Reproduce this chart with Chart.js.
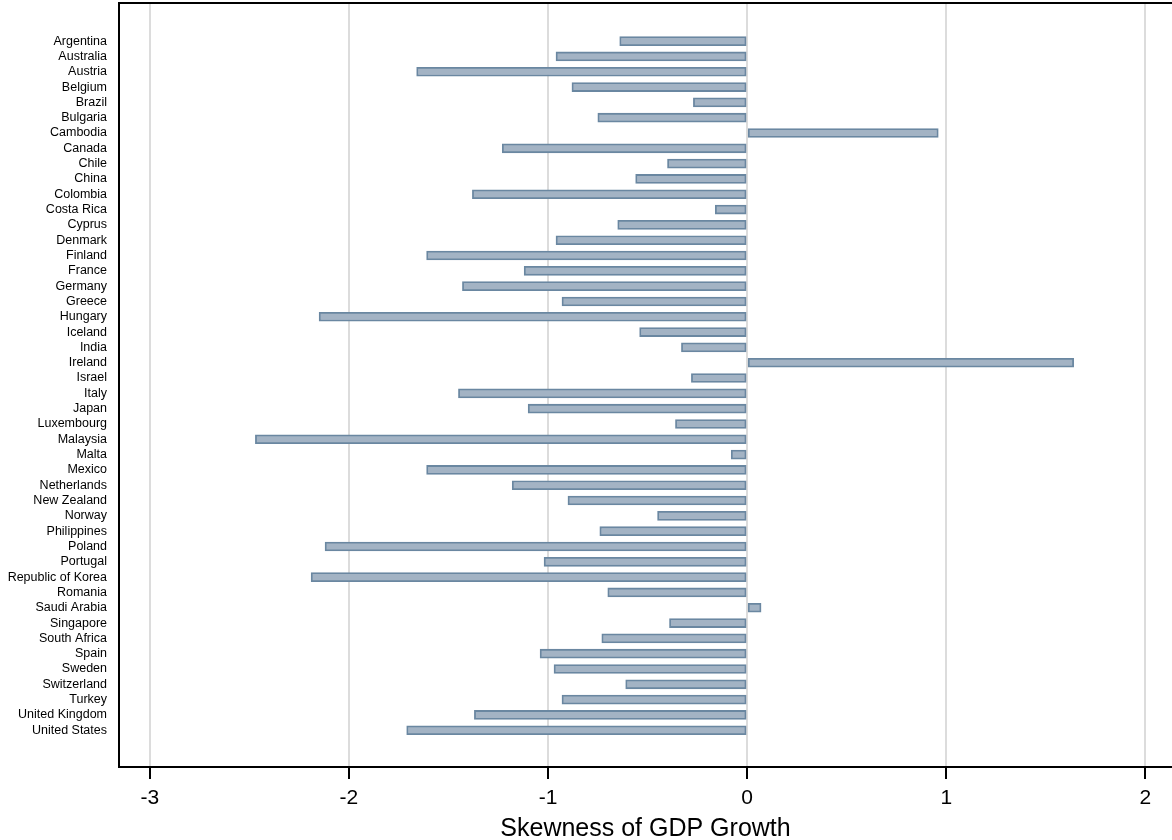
<!DOCTYPE html>
<html>
<head>
<meta charset="utf-8">
<script src="https://cdn.jsdelivr.net/npm/chart.js@4/dist/chart.umd.min.js"></script>
<style>
  html, body { margin: 0; padding: 0; background: #fff; }
  #wrap { width: 1172px; height: 840px; position: relative; }
</style>
</head>
<body>
<div id="wrap"><canvas id="c"></canvas></div>
<script>
// Countries, top to bottom
const countries = [
  "Argentina", "Australia", "Austria", "Belgium", "Brazil", "Bulgaria",
  "Cambodia", "Canada", "Chile", "China", "Colombia", "Costa Rica",
  "Cyprus", "Denmark", "Finland", "France", "Germany", "Greece",
  "Hungary", "Iceland", "India", "Ireland", "Israel", "Italy",
  "Japan", "Luxembourg", "Malaysia", "Malta", "Mexico", "Netherlands",
  "New Zealand", "Norway", "Philippines", "Poland", "Portugal",
  "Republic of Korea", "Romania", "Saudi Arabia", "Singapore",
  "South Africa", "Spain", "Sweden", "Switzerland", "Turkey",
  "United Kingdom", "United States"
];

// Skewness of GDP growth per country
const skewness = [
  -0.64, -0.96, -1.66, -0.88, -0.27, -0.75,
   0.96, -1.23, -0.40, -0.56, -1.38, -0.16,
  -0.65, -0.96, -1.61, -1.12, -1.43, -0.93,
  -2.15, -0.54, -0.33,  1.64, -0.28, -1.45,
  -1.10, -0.36, -2.47, -0.08, -1.61, -1.18,
  -0.90, -0.45, -0.74, -2.12, -1.02,
  -2.19, -0.70,  0.07, -0.39,
  -0.73, -1.04, -0.97, -0.61, -0.93,
  -1.37, -1.71
];

// Horizontal axis ticks
const xTicks = [-3, -2, -1, 0, 1, 2];
const xTitle = "Skewness of GDP Growth";

const FONT = "'Liberation Sans', Arial, Helvetica, sans-serif";

// Black frame line along the top of the plot area
const topFrame = {
  id: 'topFrame',
  afterDraw(chart) {
    const { ctx, chartArea } = chart;
    ctx.save();
    ctx.strokeStyle = '#000';
    ctx.lineWidth = 2;
    ctx.beginPath();
    ctx.moveTo(chartArea.left - 1, chartArea.top);
    ctx.lineTo(chartArea.right, chartArea.top);
    ctx.stroke();
    ctx.restore();
  }
};

new Chart(document.getElementById('c'), {
  type: 'bar',
  data: {
    datasets: [{
      data: skewness.map((v, i) => ({ x: v, y: i })),
      backgroundColor: '#a3b3c4',
      borderColor: '#6a87a1',
      borderWidth: 1.8,
      borderSkipped: false,
      barThickness: 9
    }]
  },
  options: {
    indexAxis: 'y',
    responsive: true,
    maintainAspectRatio: false,
    animation: false,
    layout: { padding: { top: 3, right: 0, bottom: 0, left: 0 } },
    plugins: {
      legend: { display: false },
      tooltip: { enabled: false }
    },
    scales: {
      x: {
        type: 'linear',
        position: 'bottom',
        min: -3.155,
        max: 2.134,
        afterFit(scale) {
          scale.height = 73;
          scale.paddingLeft = 0;
          scale.paddingRight = 0;
        },
        afterBuildTicks(scale) { scale.ticks = xTicks.map(v => ({ value: v })); },
        grid: {
          color: '#dcdcdc',
          lineWidth: 2,
          drawTicks: true,
          tickLength: 12,
          tickColor: '#000',
          tickWidth: 2
        },
        border: { display: true, color: '#000', width: 2 },
        ticks: {
          color: '#000',
          padding: 7,
          font: { family: FONT, size: 21 },
          maxRotation: 0,
          callback: v => String(v)
        },
        title: {
          display: true,
          text: xTitle,
          color: '#000',
          padding: { top: 0, bottom: 0 },
          font: { family: FONT, size: 25, lineHeight: 0.85 }
        }
      },
      y: {
        type: 'linear',
        position: 'left',
        reverse: true,
        offset: false,
        min: -2.49,
        max: 47.40,
        afterFit(scale) {
          scale.width = 119;
          scale.paddingTop = 0;
          scale.paddingBottom = 0;
        },
        afterBuildTicks(scale) { scale.ticks = countries.map((_, i) => ({ value: i })); },
        grid: { display: false, drawTicks: false },
        border: { display: true, color: '#000', width: 2 },
        ticks: {
          autoSkip: false,
          color: '#000',
          padding: 12,
          font: { family: FONT, size: 12.5 },
          callback: v => countries[v] ?? ''
        }
      }
    }
  },
  plugins: [topFrame]
});
</script>
</body>
</html>
